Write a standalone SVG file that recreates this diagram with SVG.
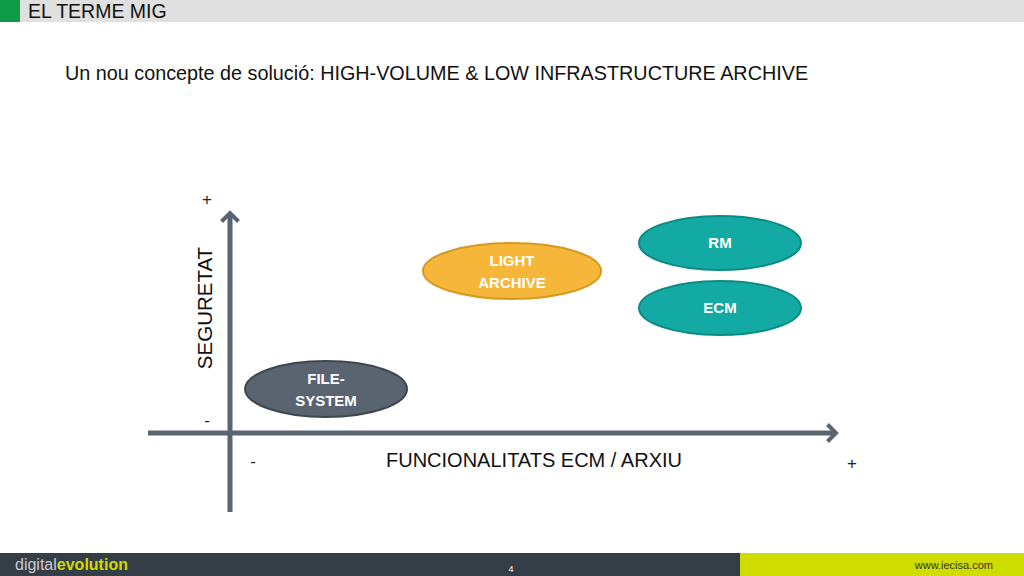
<svg xmlns="http://www.w3.org/2000/svg" width="1024" height="576" viewBox="0 0 1024 576">
<style>
text{font-family:"Liberation Sans",Arial,sans-serif}
.nl{font-size:15px;font-weight:bold;fill:#fff;text-anchor:middle}
.ax{stroke:#5a6470;stroke-width:5;fill:none}
</style>
<defs>
<marker id="ah" markerWidth="4" markerHeight="4" refX="2" refY="2" orient="auto" markerUnits="strokeWidth"><path d="M0.3,0.3 L2,2 L0.3,3.7" fill="none" stroke="#5a6470" stroke-width="0.8"/></marker>
</defs>
<rect width="1024" height="576" fill="#fff"/>
<rect x="0" y="0" width="1024" height="22" fill="#e0e0e0"/>
<rect x="0" y="0" width="20" height="22" fill="#0f9a4a"/>
<text x="28" y="18" font-size="19.5" fill="#111">EL TERME MIG</text>
<text x="65" y="80" font-size="19.8" fill="#111">Un nou concepte de solució: HIGH-VOLUME &amp; LOW INFRASTRUCTURE ARCHIVE</text>
<g id="connectors">
<line class="ax" x1="230" y1="512" x2="230" y2="213" marker-end="url(#ah)"/>
<line class="ax" x1="148" y1="433" x2="836" y2="433" marker-end="url(#ah)"/>
</g>
<text x="207" y="205" font-size="17" text-anchor="middle" fill="#222">+</text>
<text x="207" y="426" font-size="17" text-anchor="middle" fill="#222">-</text>
<text x="253" y="467" font-size="17" text-anchor="middle" fill="#222">-</text>
<text x="852" y="469" font-size="17" text-anchor="middle" fill="#222">+</text>
<text transform="translate(212,308) rotate(-90)" font-size="20.5" text-anchor="middle" fill="#111">SEGURETAT</text>
<text x="534" y="467" font-size="20" text-anchor="middle" fill="#111">FUNCIONALITATS ECM / ARXIU</text>
<g id="filesystem"><ellipse cx="326" cy="389" rx="81" ry="28" fill="#5a6470" stroke="#3e4650" stroke-width="2"/><text class="nl" x="326" y="384">FILE-</text><text class="nl" x="326" y="406">SYSTEM</text></g>
<g id="light"><ellipse cx="512" cy="271" rx="89" ry="28" fill="#f6b63a" stroke="#d69a22" stroke-width="2"/><text class="nl" x="512" y="266">LIGHT</text><text class="nl" x="512" y="288">ARCHIVE</text></g>
<g id="rm"><ellipse cx="720" cy="243" rx="81" ry="27" fill="#12aaa3" stroke="#0c8a84" stroke-width="2"/><text class="nl" x="720" y="248">RM</text></g>
<g id="ecm"><ellipse cx="720" cy="308" rx="81" ry="27" fill="#12aaa3" stroke="#0c8a84" stroke-width="2"/><text class="nl" x="720" y="313">ECM</text></g>
<rect x="0" y="553" width="740" height="23" fill="#353d46"/>
<rect x="740" y="553" width="284" height="23" fill="#cfdc00"/>
<text x="15" y="570" font-size="16" fill="#c8ccd0">digital<tspan fill="#cfdc00" font-weight="bold">evolution</tspan></text>
<text x="511" y="572" font-size="9" fill="#fff" text-anchor="middle">4</text>
<text x="993" y="569" font-size="11" fill="#333" text-anchor="end">www.iecisa.com</text>
</svg>
